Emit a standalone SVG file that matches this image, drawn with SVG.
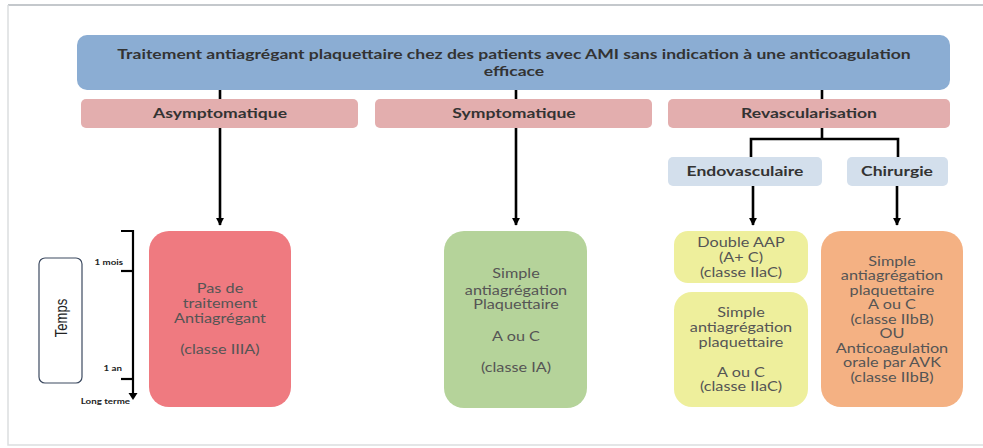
<svg xmlns="http://www.w3.org/2000/svg" width="983" height="448" viewBox="0 0 983 448">
  <defs>
    <marker id="arrow" viewBox="0 0 10 10" refX="9" refY="5" markerWidth="3.2" markerHeight="3.2" orient="auto" markerUnits="strokeWidth">
      <path d="M0,0 L10,5 L0,10 Z" fill="#000"/>
    </marker>
    <style>
      /* text is drawn in a horizontally widened face: each label block is scaled on x */
      .head { font-family: Lato, "Liberation Sans", sans-serif; font-weight: bold; font-size: 13px; fill: #333; text-anchor: middle; }
      .body { font-family: Lato, "Liberation Sans", sans-serif; font-size: 12.5px; fill: #555; text-anchor: middle; }
      .tick { font-family: Lato, "Liberation Sans", sans-serif; font-weight: bold; font-size: 7.5px; fill: #222; text-anchor: end; }
      .link { fill: none; stroke: #000; stroke-width: 2.6; }
      .axis { fill: none; stroke: #000; stroke-width: 2.2; }
    </style>
  </defs>

  <rect width="983" height="448" fill="#fff"/>
  <!-- page frame -->
  <path d="M8,5 H983" stroke="#c4c8cc" stroke-width="2" fill="none"/>
  <path d="M8,5 V445 H983" stroke="#dcdee0" stroke-width="1.5" fill="none"/>

  <!-- connectors -->
  <g id="connectors">
    <path class="link" d="M220,90 V99"/>
    <path class="link" d="M516,90 V99"/>
    <path class="link" d="M822,90 V99"/>
    <path class="link" d="M220,128 V225" marker-end="url(#arrow)"/>
    <path class="link" d="M516,128 V225" marker-end="url(#arrow)"/>
    <path class="link" d="M822,128 V139 M751,157 V139 H898 V157"/>
    <path class="link" d="M753,186 V225" marker-end="url(#arrow)"/>
    <path class="link" d="M897,186 V225" marker-end="url(#arrow)"/>
  </g>

  <g id="title">
    <rect x="77" y="35" width="873" height="55" rx="10" fill="#8badd3"/>
    <g transform="translate(514 0) scale(1.35 1)">
      <text class="head" x="0" y="59">Traitement antiagrégant plaquettaire chez des patients avec AMI sans indication à une anticoagulation</text>
      <text class="head" x="0" y="76">efficace</text>
    </g>
  </g>

  <g id="asymptomatique">
    <rect x="81" y="99" width="277" height="29" rx="5" fill="#e3aeae"/>
    <text class="head" transform="translate(220 118) scale(1.35 1)">Asymptomatique</text>
  </g>
  <g id="symptomatique">
    <rect x="375" y="99" width="277" height="29" rx="5" fill="#e3aeae"/>
    <text class="head" transform="translate(514 118) scale(1.35 1)">Symptomatique</text>
  </g>
  <g id="revascularisation">
    <rect x="668" y="99" width="282" height="29" rx="5" fill="#e3aeae"/>
    <text class="head" transform="translate(809 118) scale(1.35 1)">Revascularisation</text>
  </g>
  <g id="endovasculaire">
    <rect x="668" y="157" width="154" height="29" rx="5" fill="#d3dfec"/>
    <text class="head" transform="translate(745 176) scale(1.35 1)">Endovasculaire</text>
  </g>
  <g id="chirurgie">
    <rect x="847" y="157" width="101" height="29" rx="5" fill="#d3dfec"/>
    <text class="head" transform="translate(897 176) scale(1.35 1)">Chirurgie</text>
  </g>

  <g id="pas-de-traitement">
    <rect x="149" y="231" width="142" height="176" rx="20" fill="#ef7a80"/>
    <g transform="translate(220 0) scale(1.3 1)">
      <text class="body" x="0" y="293">Pas de</text>
      <text class="body" x="0" y="308">traitement</text>
      <text class="body" x="0" y="323">Antiagrégant</text>
      <text class="body" x="0" y="354">(classe IIIA)</text>
    </g>
  </g>

  <g id="simple-symptomatique">
    <rect x="444" y="231" width="143" height="177" rx="20" fill="#b5d39a"/>
    <g transform="translate(516 0) scale(1.3 1)">
      <text class="body" x="0" y="278">Simple</text>
      <text class="body" x="0" y="295">antiagrégation</text>
      <text class="body" x="0" y="309">Plaquettaire</text>
      <text class="body" x="0" y="341">A ou C</text>
      <text class="body" x="0" y="372">(classe IA)</text>
    </g>
  </g>

  <g id="double-aap">
    <rect x="674" y="231" width="134" height="52" rx="14" fill="#eeef9c"/>
    <g transform="translate(741 0) scale(1.3 1)">
      <text class="body" x="0" y="247">Double AAP</text>
      <text class="body" x="0" y="262">(A+ C)</text>
      <text class="body" x="0" y="277">(classe IIaC)</text>
    </g>
  </g>

  <g id="simple-endovasculaire">
    <rect x="674" y="292" width="134" height="115" rx="18" fill="#eeef9c"/>
    <g transform="translate(741 0) scale(1.3 1)">
      <text class="body" x="0" y="317">Simple</text>
      <text class="body" x="0" y="332">antiagrégation</text>
      <text class="body" x="0" y="347">plaquettaire</text>
      <text class="body" x="0" y="377">A ou C</text>
      <text class="body" x="0" y="391">(classe IIaC)</text>
    </g>
  </g>

  <g id="chirurgie-traitement">
    <rect x="821" y="231" width="142" height="176" rx="20" fill="#f4b183"/>
    <g transform="translate(892 0) scale(1.3 1)">
      <text class="body" x="0" y="266">Simple</text>
      <text class="body" x="0" y="280">antiagrégation</text>
      <text class="body" x="0" y="295">plaquettaire</text>
      <text class="body" x="0" y="309">A ou C</text>
      <text class="body" x="0" y="324">(classe IIbB)</text>
      <text class="body" x="0" y="338">OU</text>
      <text class="body" x="0" y="353">Anticoagulation</text>
      <text class="body" x="0" y="367">orale par AVK</text>
      <text class="body" x="0" y="382">(classe IIbB)</text>
    </g>
  </g>

  <!-- time scale -->
  <g id="time-axis">
    <path class="axis" d="M121,231 H133 V394"/>
    <path d="M128.5,393 L137.5,393 L133,400 Z" fill="#000"/>
    <path class="axis" d="M121,271 H133"/>
    <path class="axis" d="M121,379 H133"/>
    <text class="tick" transform="translate(123 265) scale(1.3 1)">1 mois</text>
    <text class="tick" transform="translate(122 371) scale(1.3 1)">1 an</text>
    <text class="tick" transform="translate(130 404) scale(1.3 1)">Long terme</text>
  </g>

  <g id="temps">
    <rect x="39" y="258" width="43" height="125" rx="6" fill="#fff" stroke="#3c4a60" stroke-width="1.2"/>
    <text transform="translate(61 318) scale(1.3 1) rotate(-90)" text-anchor="middle" dominant-baseline="central" font-family="Liberation Sans, sans-serif" font-size="13" fill="#222">Temps</text>
  </g>
</svg>
